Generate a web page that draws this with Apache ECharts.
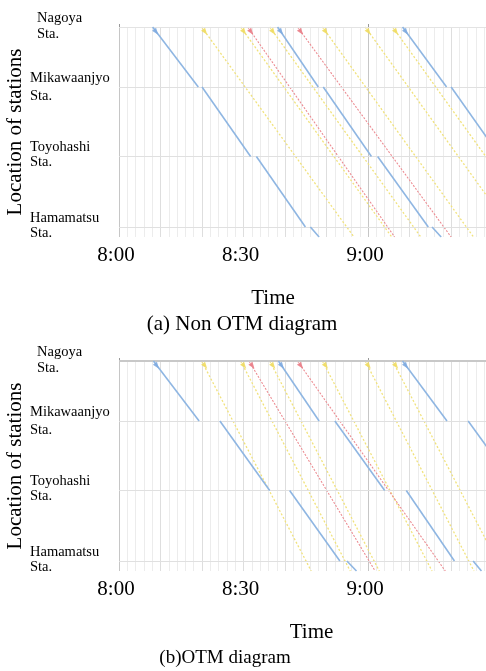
<!DOCTYPE html>
<html><head><meta charset="utf-8">
<script src="https://cdn.jsdelivr.net/npm/echarts@6/dist/echarts.min.js"></script>
<style>html,body{margin:0;padding:0;background:#fff}#c{width:486px;height:671px}</style>
</head><body><div id="c"></div>
<script>
// ---- data ----
const stations = ['Nagoya', 'Mikawaanjyo', 'Toyohashi', 'Hamamatsu'];
const stationPos = [0, 60, 129.5, 200];     // position along the line (plot units)
const edgePos = 210;                          // lower edge of the drawn section
const xTickMinutes = [0, 30, 60];             // minutes after 8:00
const xTickLabels = ['8:00', '8:30', '9:00'];
const xMaxMinutes = 88.4;

// stopping trains (blue): [arrival, departure] at each station, then time at lower edge
const kodamaA = [
  [[null, 8.1], [19.1, 20.0], [31.7, 33.1], [44.9, 46.1], 48.2],
  [[null, 38.2], [48.0, 49.2], [60.8, 62.3], [74.5, 75.4], 77.6],
  [[null, 68.3], [78.9, 80.0], [91.8, null], [null, null], null]
];
const kodamaB = [
  [[null, 8.3], [19.3, 24.3], [36.3, 41.1], [53.2, 54.9], 57.2],
  [[null, 38.4], [48.2, 52.0], [64.0, 69.2], [80.8, 85.3], 87.3],
  [[null, 68.3], [79.0, 84.1], [96.2, null], [null, null], null]
];
// through trains: [departure at Nagoya, time at lower edge]
const yellowA = [[19.9, 56.6], [29.3, 65.7], [36.3, 72.7], [49.0, 85.4], [59.3, 95.7], [65.9, 102.3]];
const yellowB = [[19.9, 46.3], [29.3, 55.7], [36.3, 62.7], [49.0, 75.4], [59.3, 85.5], [65.9, 92.3]];
const redA = [[31.0, 66.4], [43.0, 80.0]];
const redB = [[31.3, 61.7], [43.0, 78.6]];

// ---- styles ----
const FONT = 'Liberation Serif';
const BLUE = '#8fb6e2', YELLOW = '#f1e27c', RED = '#ec8c92';
const panels = [
  {top: 27, kodama: kodamaA, yellow: yellowA, red: redA, caption: '(a) Non OTM diagram', capX: 242, capTop: 314, capSize: 21, timePad: [0, 59, 0, 0], topLine: {color: '#e3e3e3', width: 1}},
  {top: 361, kodama: kodamaB, yellow: yellowB, red: redB, caption: '(b)OTM diagram', capX: 225, capTop: 649, capSize: 19, timePad: [0, 0, 0, 18], topLine: {color: '#c8c8c8', width: 2}}
];
const labelLift = [5, 0, 8, 7];

const option = {
  animation: false,
  backgroundColor: '#fff',
  title: [], grid: [], xAxis: [], yAxis: [], series: []
};

panels.forEach((p, gi) => {
  option.grid.push({left: 119, top: p.top, width: 367, height: 210, containLabel: false, outerBoundsMode: 'none'});
  option.title.push({
    text: p.caption, left: p.capX, top: p.capTop, textAlign: 'center', padding: 0,
    textStyle: {fontFamily: FONT, fontWeight: 'normal', fontSize: p.capSize, color: '#000'}
  });
  // bottom time axis
  option.xAxis.push({
    type: 'value', gridIndex: gi, position: 'bottom', min: 0, max: xMaxMinutes, interval: 10,
    name: 'Time', nameLocation: 'middle', nameGap: 51, nameMoveOverlap: false,
    nameTextStyle: {fontFamily: FONT, fontSize: 21, color: '#000', padding: p.timePad},
    axisLine: {show: false}, axisTick: {show: false},
    axisLabel: {
      margin: 8, fontFamily: FONT, fontSize: 21, color: '#000', padding: [0, 6, 0, 0],
      showMinLabel: true, showMaxLabel: false,
      formatter: v => { const i = xTickMinutes.indexOf(Math.round(v)); return i >= 0 ? xTickLabels[i] : ''; }
    },
    splitLine: {show: true, lineStyle: {color: '#dedede', width: 1}},
    minorTick: {show: false, splitNumber: 5},
    minorSplitLine: {show: true, lineStyle: {color: '#ececec', width: 1}}
  });
  // top hour axis
  option.xAxis.push({
    type: 'value', gridIndex: gi, position: 'top', min: 0, max: xMaxMinutes, interval: 60,
    axisLine: {show: false},
    axisTick: {show: true, length: 3, lineStyle: {color: '#999'}},
    axisLabel: {show: false},
    splitLine: {show: true, lineStyle: {color: '#c6c6c6', width: 1}}
  });
  option.yAxis.push({
    type: 'value', gridIndex: gi, inverse: true, min: 0, max: edgePos,
    name: 'Location of stations', nameLocation: 'middle', nameGap: 93, nameRotate: 90, nameMoveOverlap: false,
    nameTextStyle: {fontFamily: FONT, fontSize: 21, color: '#000'},
    axisLine: {show: false}, axisTick: {show: false}, splitLine: {show: false},
    axisLabel: {
      customValues: stationPos, align: 'left', margin: 89, color: '#000',
      fontFamily: FONT, fontSize: 14.5,
      formatter: v => {
        const i = stationPos.indexOf(v);
        if (i < 0) return '';
        return '{a' + i + '|' + stations[i] + '}\n{b' + i + '|Sta.}';
      },
      rich: (() => {
        const r = {};
        stations.forEach((s, i) => {
          const left = i === 0 ? 7 : 0;
          r['a' + i] = {fontFamily: FONT, fontSize: 14.5, lineHeight: 18.5, color: '#000', padding: [0, 0, 0, left]};
          r['b' + i] = {fontFamily: FONT, fontSize: 14.5, lineHeight: 18.5, color: '#000', padding: [0, 0, labelLift[i], left]};
        });
        return r;
      })()
    }
  });
  const xi = gi * 2, yi = gi;
  // station lines
  option.series.push({
    type: 'line', xAxisIndex: xi, yAxisIndex: yi, data: [[0, 0]], symbol: 'none',
    lineStyle: {opacity: 0}, silent: true, z: 1,
    markLine: {
      silent: true, symbol: ['none', 'none'], label: {show: false}, animation: false,
      lineStyle: {type: 'solid', color: '#e0e0e0', width: 1},
      data: stationPos.map((v, i) => i === 0 ? {yAxis: v, lineStyle: p.topLine} : {yAxis: v})
    }
  });
  const pos = stationPos.concat([edgePos]);
  const addLine = (pts, style, z) => option.series.push({
    type: 'line', xAxisIndex: xi, yAxisIndex: yi, data: pts, symbol: 'none', clip: true,
    lineStyle: style, z: z, silent: true
  });
  // through trains
  p.yellow.forEach(tr => addLine([[tr[0], 0], [tr[1], edgePos]], {color: YELLOW, width: 1.3, type: [2, 2]}, 3));
  p.red.forEach(tr => addLine([[tr[0], 0], [tr[1], edgePos]], {color: RED, width: 1.1, type: [2, 1.5]}, 4));
  // stopping trains, one run per segment between stations
  p.kodama.forEach(tr => {
    for (let i = 0; i < 4; i++) {
      const dep = tr[i][1];
      if (dep == null) break;
      const arr = i + 1 < 4 ? tr[i + 1][0] : tr[4];
      if (arr == null) break;
      addLine([[dep, pos[i]], [arr, pos[i + 1]]], {color: BLUE, width: 1.6}, 5);
    }
  });
  // departure markers at Nagoya
  const mk = (list, color, z) => option.series.push({
    type: 'scatter', xAxisIndex: xi, yAxisIndex: yi, clip: false, silent: true, z: z,
    data: list.map(v => [v, 0]), symbol: 'triangle', symbolSize: [5, 7], symbolRotate: 216,
    symbolOffset: [3.5, 5], itemStyle: {color: color, opacity: 0.9}
  });
  mk(p.yellow.map(t => t[0]), '#f0dc60', 6);
  mk(p.red.map(t => t[0]), '#ea7c86', 6);
  mk(p.kodama.map(t => t[0][1]), '#7fabe0', 6);
});

const chart = echarts.init(document.getElementById('c'), null, {renderer: 'canvas'});
chart.setOption(option);
</script>
</body></html>
